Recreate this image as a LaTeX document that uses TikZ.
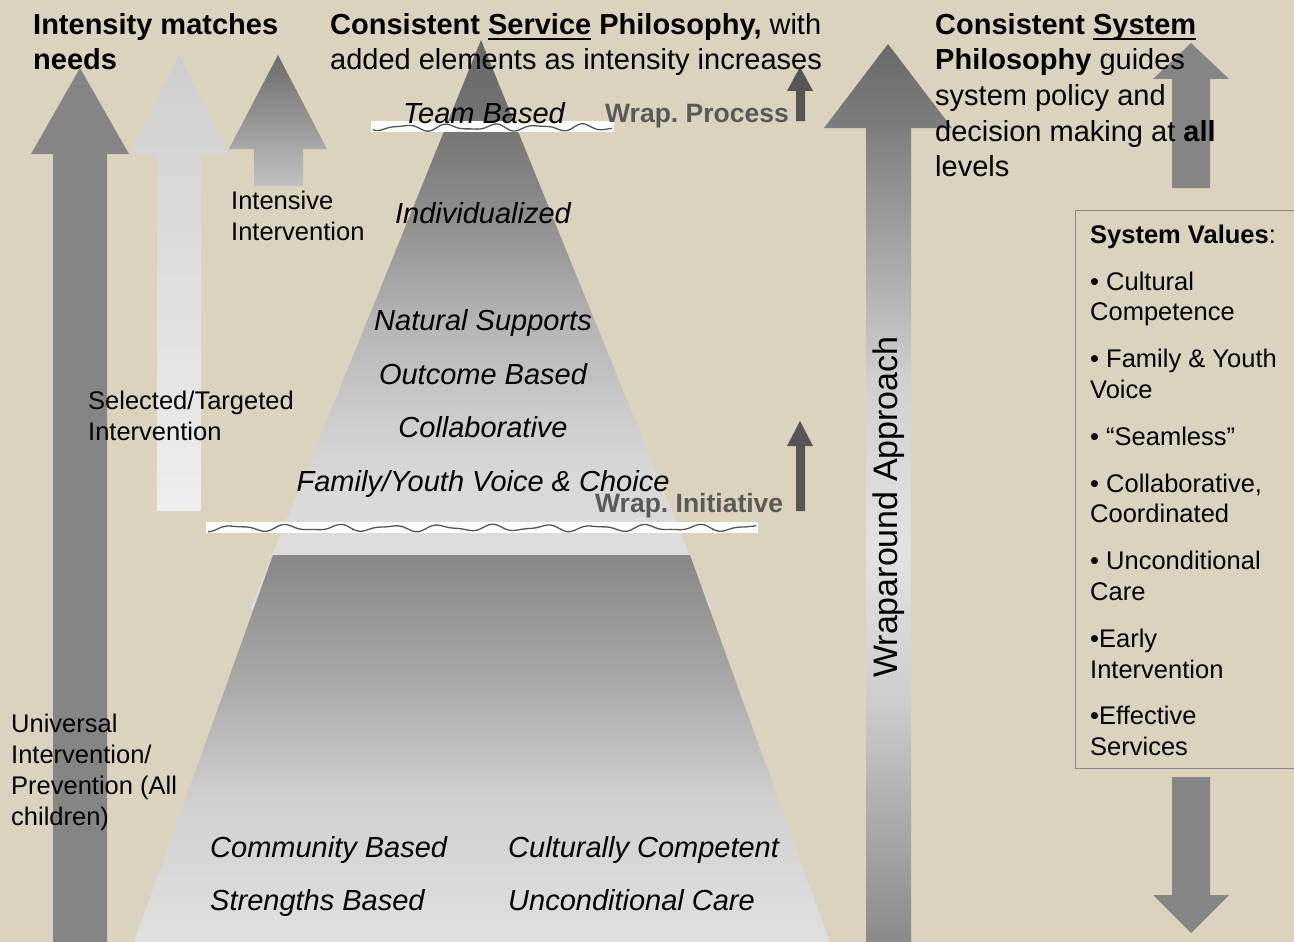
\documentclass[tikz,border=0pt]{standalone}
\usepackage{fontspec}
\setmainfont{Liberation Sans}
\frenchspacing

\definecolor{bg}{RGB}{219,211,189}
\definecolor{arrA}{RGB}{133,133,133}
\definecolor{lt1}{RGB}{206,206,206}
\definecolor{lt2}{RGB}{238,238,238}
\definecolor{in1}{RGB}{108,108,108}
\definecolor{in2}{RGB}{192,192,192}
\definecolor{dk}{RGB}{85,85,85}
\definecolor{wraptxt}{RGB}{89,89,89}
\definecolor{boxline}{RGB}{136,136,136}
% upper triangle stops
\definecolor{u1}{RGB}{220,220,220}
\definecolor{u2}{RGB}{216,216,216}
\definecolor{u3}{RGB}{207,207,207}
\definecolor{u4}{RGB}{180,180,180}
\definecolor{u5}{RGB}{140,140,140}
\definecolor{u6}{RGB}{114,114,114}
\definecolor{u7}{RGB}{104,104,104}
% lower trapezoid stops
\definecolor{l1}{RGB}{224,224,224}
\definecolor{l2}{RGB}{208,208,208}
\definecolor{l3}{RGB}{168,168,168}
\definecolor{l4}{RGB}{135,135,135}
% wraparound stops
\definecolor{w1}{RGB}{138,138,138}
\definecolor{w2}{RGB}{176,176,176}
\definecolor{w3}{RGB}{205,205,205}
\definecolor{w4}{RGB}{226,226,226}
\definecolor{w5}{RGB}{208,208,208}
\definecolor{w6}{RGB}{165,165,165}
\definecolor{w7}{RGB}{126,126,126}
\definecolor{w8}{RGB}{106,106,106}

\pgfdeclareverticalshading{upshade}{100bp}{color(0bp)=(u1); color(31.1bp)=(u1); color(36.4bp)=(u2); color(40.8bp)=(u3); color(50.4bp)=(u4); color(59.8bp)=(u5); color(68.6bp)=(u6); color(75bp)=(u7); color(100bp)=(u7)}
\pgfdeclareverticalshading{lowshade}{100bp}{color(0bp)=(l1); color(25bp)=(l1); color(43.3bp)=(l2); color(58.9bp)=(l3); color(75bp)=(l4); color(100bp)=(l4)}
\pgfdeclareverticalshading{wrapshade}{100bp}{color(0bp)=(w1); color(25bp)=(w1); color(32.9bp)=(w2); color(38.5bp)=(w3); color(46.8bp)=(w4); color(56.3bp)=(w5); color(63.5bp)=(w6); color(70.3bp)=(w7); color(75bp)=(w8); color(100bp)=(w8)}

\newcommand\fbig{\fontsize{29}{35}\selectfont}
\newcommand\fmed{\fontsize{25.5}{31}\selectfont}
\newcommand\fwr{\fontsize{26.5}{31}\selectfont\bfseries}
\newcommand\myul[1]{\setbox0\hbox{#1}\rlap{\rule[-5.5pt]{\wd0}{2pt}}\box0\relax}

\tikzset{
  big/.style={inner sep=0pt, anchor=base west, font=\fbig},
  bigc/.style={inner sep=0pt, anchor=base, font=\fbig\itshape},
  bigi/.style={inner sep=0pt, anchor=base west, font=\fbig\itshape},
  med/.style={inner sep=0pt, anchor=base west, font=\fmed},
  wraplbl/.style={inner sep=0pt, anchor=base west, font=\fwr, text=wraptxt},
  wave/.style={draw=dk, line width=1.3pt, line join=round},
}

\begin{document}
\begin{tikzpicture}[x=1pt,y=-1pt]
\useasboundingbox (0,0) rectangle (1294,942);
\fill[bg] (0,0) rectangle (1294,942);

% left arrows
\fill[arrA] (53,942) -- (53,154) -- (31,154) -- (80,68) -- (129,154) -- (107,154) -- (107,942) -- cycle;
\shade[top color=lt1, bottom color=lt2] (157,511) -- (157,154) -- (130,154) -- (179,55) -- (228,154) -- (201,154) -- (201,511) -- cycle;
\shade[top color=in1, bottom color=in2] (254,186) -- (254,149) -- (229,149) -- (278,55) -- (327,149) -- (303,149) -- (303,186) -- cycle;

% pyramid
\shade[shading=upshade] (481,40) -- (712,610) -- (250,610) -- cycle;
\shade[shading=lowshade] (273,555) -- (690,555) -- (830,942) -- (134,942) -- cycle;

% white strips with wavy lines
\fill[white] (371,121) rectangle (614,132);
\draw[wave] plot[domain=373:612, samples=120, smooth] (\x, {127.5+2.6*sin(8*(\x-370))+1.2*sin(13*(\x-370)+40)});
\fill[white] (206,522) rectangle (758,533);
\draw[wave] plot[domain=208:756, samples=220, smooth] (\x, {528+2.6*sin(7*(\x-200)+20)+1.2*sin(12*(\x-200))});

% wraparound arrow
\shade[shading=wrapshade] (866,942) -- (866,128) -- (824,128) -- (888,44) -- (952,128) -- (911,128) -- (911,942) -- cycle;

% small wrap arrows
\fill[dk] (796,121) -- (796,91) -- (787,91) -- (800,67) -- (813,91) -- (805,91) -- (805,121) -- cycle;
\fill[dk] (796,511) -- (796,446) -- (787,446) -- (800,421) -- (813,446) -- (805,446) -- (805,511) -- cycle;

% right arrows
\fill[arrA] (1172,188) -- (1172,79) -- (1153,79) -- (1191,43) -- (1229,79) -- (1210,79) -- (1210,188) -- cycle;
\fill[arrA] (1172,777) -- (1210,777) -- (1210,895) -- (1229,895) -- (1191,933) -- (1153,895) -- (1172,895) -- cycle;

% system values box
\draw[boxline, line width=1pt] (1294,210) -- (1075,210) -- (1075,768) -- (1294,768);

% headings
\node[big] (h1a) at (33,35) {\bfseries Intensity matches};
\node[big] (h1b) at (33,70) {\bfseries needs};
\node[big] (h2a) at (330,35) {{\bfseries Consistent \myul{Service} Philosophy,} with};
\node[big] (h2b) at (330,70) {added elements as intensity increases};
\node[big] (h3a) at (935,35) {\bfseries Consistent \myul{System}};
\node[big] (h3b) at (935,70) {{\bfseries Philosophy} guides};
\node[big] (h3c) at (935,105.5) {system policy and};
\node[big] (h3d) at (935,141) {decision making at {\bfseries all}};
\node[big] (h3e) at (935,176) {levels};

% left labels
\node[med] (ii1) at (231,209) {Intensive};
\node[med] (ii2) at (231,240) {Intervention};
\node[med] (st1) at (88,409) {Selected/Targeted};
\node[med] (st2) at (88,440) {Intervention};
\node[med] (un1) at (11,732) {Universal};
\node[med] (un2) at (11,763) {Intervention/};
\node[med] (un3) at (11,794) {Prevention (All};
\node[med] (un4) at (11,825) {children)};

% pyramid labels
\node[bigc] (team) at (484,123) {Team Based};
\node[bigc] (indiv) at (483,223) {Individualized};
\node[bigc] (nat) at (483,330) {Natural Supports};
\node[bigc] (outc) at (483,384) {Outcome Based};
\node[bigc] (coll) at (483,437) {Collaborative};
\node[bigc] (fam) at (483,491) {Family/Youth Voice \& Choice};
\node[bigi] (comm) at (210,857) {Community Based};
\node[bigi] (str) at (210,910) {Strengths Based};
\node[bigi] (cult) at (508,857) {Culturally Competent};
\node[bigi] (uncond) at (508,910) {Unconditional Care};

% wrap labels
\node[wraplbl] (wproc) at (605,122) {Wrap. Process};
\node[wraplbl] (winit) at (595,512) {Wrap. Initiative};

% wraparound text
\node[inner sep=0pt, anchor=base, rotate=90, font=\fontsize{34}{40}\selectfont] (wrapapp) at (897,507) {Wraparound Approach};

% system values
\node[med] (sv0) at (1090,243) {{\bfseries System Values}:};
\node[med] (sv1) at (1090,290) {• Cultural};
\node[med] (sv2) at (1090,320) {Competence};
\node[med] (sv3) at (1090,367) {• Family \& Youth};
\node[med] (sv4) at (1090,398) {Voice};
\node[med] (sv5) at (1090,445) {• “Seamless”};
\node[med] (sv6) at (1090,492) {• Collaborative,};
\node[med] (sv7) at (1090,522) {Coordinated};
\node[med] (sv8) at (1090,569) {• Unconditional};
\node[med] (sv9) at (1090,600) {Care};
\node[med] (sv10) at (1090,647) {•Early};
\node[med] (sv11) at (1090,678) {Intervention};
\node[med] (sv12) at (1090,724) {•Effective};
\node[med] (sv13) at (1090,755) {Services};
\end{tikzpicture}
\end{document}
